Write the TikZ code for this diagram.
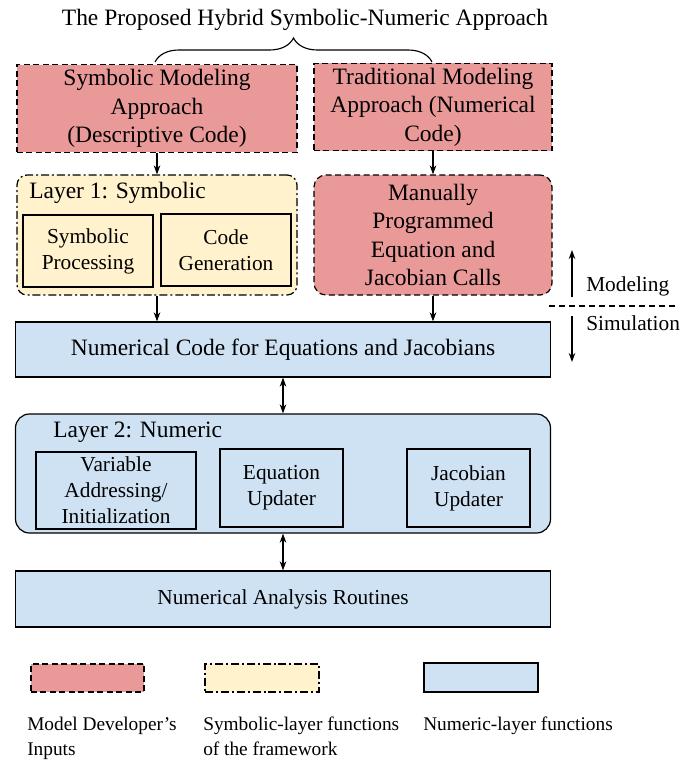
\documentclass[tikz,border=0pt]{standalone}
\usepackage{fontspec}
\setmainfont{Liberation Serif}
\usetikzlibrary{arrows.meta, decorations.pathreplacing}
\definecolor{devpink}{RGB}{234,153,153}
\definecolor{symyellow}{RGB}{255,242,204}
\definecolor{numblue}{RGB}{207,226,243}
% one drawing unit = one pixel at 96 dpi
\def\pxs{0.75}

\begin{document}
\begin{tikzpicture}[x=\pxs pt, y=-\pxs pt,
    big/.style={font=\fontsize{17.6}{21.4}\selectfont, align=center},
    small/.style={font=\fontsize{16}{19.4}\selectfont, align=center},
    note/.style={font=\fontsize{14.5}{18.8}\selectfont, align=left, inner sep=0pt},
    devbox/.style={draw, line width=0.9pt, dash pattern=on 4.5pt off 2.6pt, fill=devpink},
    symbox/.style={draw, line width=0.9pt, dash pattern=on 6pt off 2.2pt on 1.5pt off 2.2pt, fill=symyellow},
    numbox/.style={draw, line width=0.9pt, fill=numblue},
    inbox/.style={draw, line width=1pt, small},
    arr/.style={-{Stealth[length=6.8pt, width=4.9pt]}, line width=0.9pt},
    dbl/.style={{Stealth[length=6.8pt, width=4.9pt]}-{Stealth[length=6.8pt, width=4.9pt]}, line width=0.9pt}
  ]
  \useasboundingbox (0,0) rectangle (692,760);

  % title and brace over the two inputs
  \node[big, anchor=base] (title) at (305,25) {The Proposed Hybrid Symbolic-Numeric Approach};
  \draw[line width=0.85pt, decorate, decoration={brace, amplitude=18pt}]
    (155,62) -- (432,62);

  % model developer's inputs
  \node[devbox, big, minimum width=\pxs*280, minimum height=\pxs*85] (sym) at (157,108.5)
    {Symbolic Modeling\\Approach\\(Descriptive Code)};
  \node[devbox, big, minimum width=\pxs*238, minimum height=\pxs*82] (trad) at (433,107)
    {Traditional Modeling\\Approach (Numerical\\Code)};

  % layer 1
  \node[symbox, rounded corners=7.5pt, minimum width=\pxs*280, minimum height=\pxs*120] (layer1) at (157,235) {};
  \node[big, anchor=west, inner sep=0pt] (l1label) at (29,193) {Layer 1: Symbolic};
  \node[inbox, fill=symyellow, minimum width=\pxs*130, minimum height=\pxs*72] (symproc) at (88,251)
    {Symbolic\\Processing};
  \node[inbox, fill=symyellow, minimum width=\pxs*130, minimum height=\pxs*72] (codegen) at (226,250)
    {Code\\Generation};
  \node[devbox, big, rounded corners=9pt, minimum width=\pxs*238, minimum height=\pxs*120] (manual) at (433,235)
    {Manually\\Programmed\\Equation and\\Jacobian Calls};

  % numerical code
  \node[numbox, big, minimum width=\pxs*535, minimum height=\pxs*55] (numcode) at (283,349.5)
    {Numerical Code for Equations and Jacobians};

  % layer 2
  \node[numbox, rounded corners=10.5pt, minimum width=\pxs*535, minimum height=\pxs*119] (layer2) at (283,473.5) {};
  \node[big, anchor=west, inner sep=0pt] (l2label) at (53,432) {Layer 2: Numeric};
  \node[inbox, minimum width=\pxs*160, minimum height=\pxs*77] (varaddr) at (116,490.5)
    {Variable\\Addressing/\\Initialization};
  \node[inbox, minimum width=\pxs*123, minimum height=\pxs*78] (equpd) at (281.5,488)
    {Equation\\Updater};
  \node[inbox, minimum width=\pxs*123, minimum height=\pxs*78] (jacupd) at (468.5,488)
    {Jacobian\\Updater};

  \node[numbox, small, minimum width=\pxs*535, minimum height=\pxs*56] (numana) at (283,599)
    {Numerical Analysis Routines};

  % connectors
  \draw[arr] (sym) -- (layer1);
  \draw[arr] (trad) -- (manual);
  \draw[arr] (layer1.south) -- (layer1.south |- numcode.north);
  \draw[arr] (manual.south) -- (manual.south |- numcode.north);
  \draw[dbl] (numcode) -- (layer2);
  \draw[dbl] (layer2) -- (numana);

  % modeling / simulation split
  \coordinate (modlo) at (572,297);
  \coordinate (modhi) at (572,250);
  \coordinate (simhi) at (572,316);
  \coordinate (simlo) at (572,362);
  \coordinate (splitl) at (549,306);
  \coordinate (splitr) at (678,306);
  \draw[arr] (modlo) -- (modhi);
  \draw[arr] (simhi) -- (simlo);
  \draw[line width=0.85pt, dash pattern=on 4.5pt off 3pt] (splitl) -- (splitr);
  \node[small, anchor=west, inner sep=0pt] (modeling) at (586,286) {Modeling};
  \node[small, anchor=west, inner sep=0pt] (simulation) at (586,323) {Simulation};

  % legend
  \node[devbox, minimum width=\pxs*113, minimum height=\pxs*28] (lgdev) at (87.5,678) {};
  \node[symbox, minimum width=\pxs*114, minimum height=\pxs*28] (lgsym) at (262,678) {};
  \node[numbox, minimum width=\pxs*114, minimum height=\pxs*29] (lgnum) at (481,677.5) {};
  \node[note, anchor=north west] (lgdevtext) at (27,717) {Model Developer's\\Inputs};
  \node[note, anchor=north west] (lgsymtext) at (203,717) {Symbolic-layer functions\\of the framework};
  \node[note, anchor=north west] (lgnumtext) at (423,717) {Numeric-layer functions};
\end{tikzpicture}
\end{document}
